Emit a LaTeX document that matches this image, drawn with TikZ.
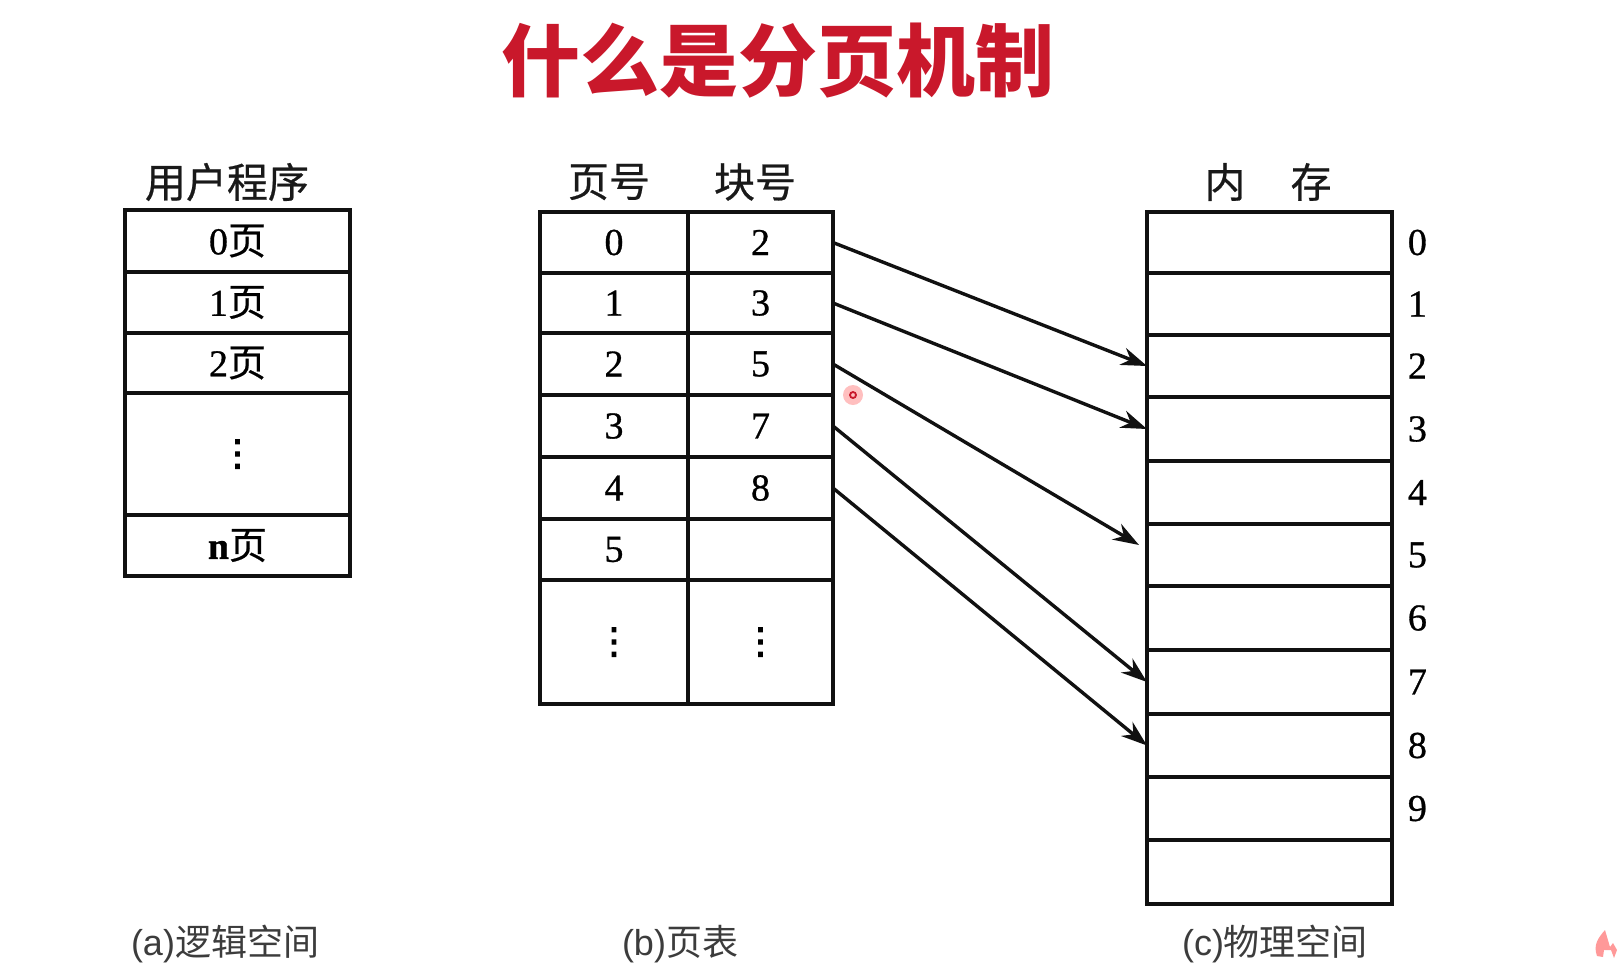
\documentclass[tikz,border=0pt]{standalone}
\usepackage{fontspec}
\setmainfont{Liberation Serif}
\setsansfont{Liberation Sans}
\newfontfamily\cjk{Noto Sans CJK SC}
\newfontfamily\cjkmed[FakeBold=0.6]{Noto Sans CJK SC}
\newfontfamily\numfont[FakeBold=0.8]{Liberation Serif}
\newfontfamily\dotfont[FakeBold=2.5]{DejaVu Sans}
\usetikzlibrary{positioning, arrows.meta}
\definecolor{TitleRed}{HTML}{C9182B}
\definecolor{CaptionGray}{HTML}{3C3C3C}
\definecolor{LineBlack}{HTML}{111111}
\newcommand{\ye}{{\cjkmed 页}}
\newcommand{\dotcol}{{\dotfont\fontsize{18}{18}\selectfont ⋮}}
\tikzset{
  span/.style n args={4}{
    at={({(#1+#3)/2},{(#2+#4)/2})},
    minimum width={(#3-#1)*0.5pt},
    minimum height={(#4-#2)*0.5pt},
  },
  cellbox/.style={draw=LineBlack, line width=1.6pt, inner sep=0pt, outer sep=0pt,
    font=\numfont\fontsize{19}{19}\selectfont},
  framebox/.style={draw=LineBlack, line width=2pt, inner sep=0pt, outer sep=0pt},
  headtext/.style={font=\cjkmed\fontsize{20.5}{21}\selectfont, text=black!90},
  captext/.style={font=\sffamily\fontsize{18}{19}\selectfont, text=CaptionGray},
  numtext/.style={font=\numfont\fontsize{19}{19}\selectfont},
  maparrow/.style={line width=1.7pt, draw=LineBlack, -{Stealth[length=13pt,width=9pt]}},
}
\begin{document}
\begin{tikzpicture}[x=0.5pt, y=-0.5pt]
    \useasboundingbox (0,0) rectangle (1618,976);
    \node (title) at (778,61) {\cjk\bfseries\fontsize{39.5}{40}\selectfont\textcolor{TitleRed}{什么是分页机制}};

    % user program
    \node[headtext] (headuser) at (227,182) {用户程序};
    \foreach \i/\t/\b/\txt in {0/210/272/0\ye, 1/272/333/1\ye, 2/333/393/2\ye,
        d/393/515/\dotcol, n/515/576/\textbf{n}\ye}
      \node[cellbox, span={125}{\t}{350}{\b}] (user\i) {\txt};
    \node[framebox, span={125}{210}{350}{576}] (userframe) {};

    % page table
    \node[headtext] (headpage) at (609,182) {页号};
    \node[headtext] (headblock) at (755,182) {块号};
    \foreach \i/\t/\b/\pg/\bk in {0/212/273/0/2, 1/273/333/1/3, 2/333/395/2/5, 3/395/457/3/7,
        4/457/519/4/8, 5/519/580/5/, 6/580/704/\dotcol/\dotcol} {
      \node[cellbox, span={540}{\t}{688}{\b}] (page\i) {\pg};
      \node[cellbox, span={688}{\t}{833}{\b}] (block\i) {\bk};
    }
    \node[framebox, span={540}{212}{833}{704}] (pageframe) {};

    % memory
    \node[headtext] (headmem) at (1268,182) {内\hspace{1.1em}存};
    \foreach \i/\t/\b in {0/212/273, 1/273/335, 2/335/397, 3/397/461, 4/461/524, 5/524/586,
        6/586/650, 7/650/714, 8/714/777, 9/777/840, 10/840/904}
      \node[cellbox, span={1147}{\t}{1392}{\b}] (mem\i) {};
    \node[framebox, span={1147}{212}{1392}{904}] (memframe) {};
    \foreach \i in {0,...,9}
      \node[numtext, right=12.7pt of mem\i.east, anchor=center] (num\i) {\i};

    % arrows
    \coordinate (memgap) at (1139,545);
    \draw[maparrow] (block0.east) -- (mem2.west);
    \draw[maparrow] (block1.east) -- (mem3.west);
    \draw[maparrow] (block2.east) -- (memgap);
    \draw[maparrow] (block3.east) -- (mem7.west);
    \draw[maparrow] (block4.east) -- (mem8.west);

    % captions
    \node[captext] (capa) at (225,944) {(a){\cjk 逻辑空间}};
    \node[captext] (capb) at (680,944) {(b){\cjk 页表}};
    \node[captext] (capc) at (1275,944) {(c){\cjk 物理空间}};

    % pointer dot and corner mark
    \fill[red!25] (853,395) circle (10);
    \draw[TitleRed, line width=0.9pt] (853,395) circle (3);
    \fill[red!50, opacity=0.8] (1605,930) .. controls (1598,938) and (1593,945) .. (1597,956)
      -- (1603,957) -- (1604,950) -- (1611,950) -- (1614,958) -- (1617,950) -- (1613,943) -- (1610,947) -- cycle;
\end{tikzpicture}
\end{document}
